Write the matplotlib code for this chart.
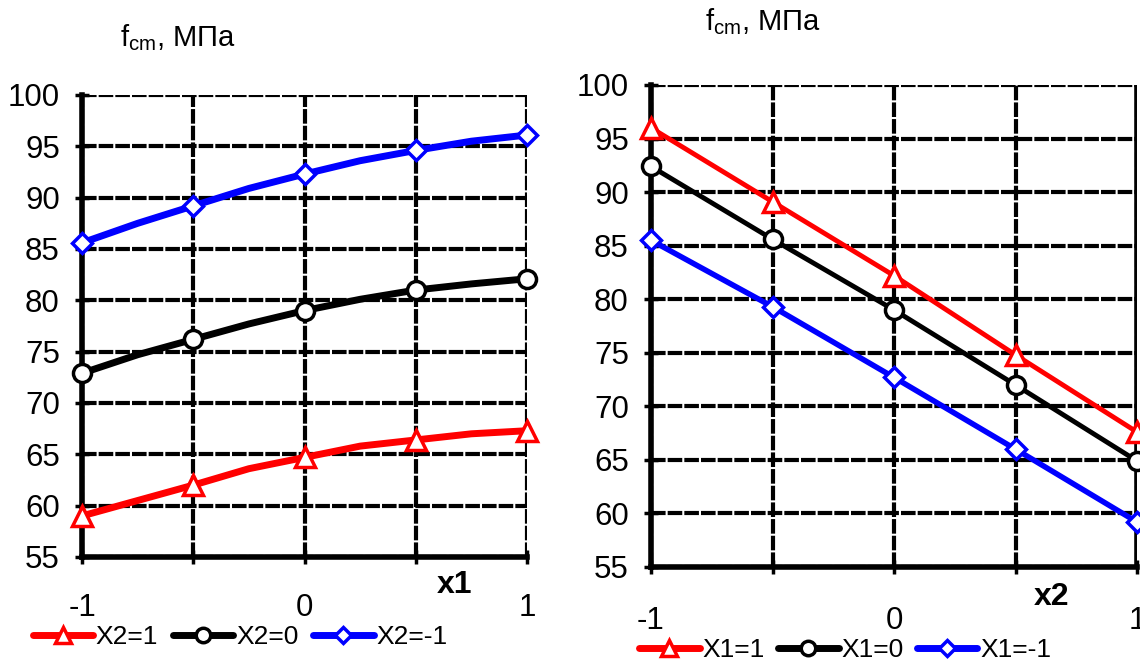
import matplotlib
matplotlib.use("Agg")
import matplotlib.pyplot as plt

plt.rcParams["font.family"] = ["Liberation Sans", "DejaVu Sans"]
plt.rcParams["mathtext.fontset"] = "custom"
plt.rcParams["mathtext.rm"] = "Liberation Sans"
plt.rcParams["mathtext.it"] = "Liberation Sans"

# Data
#
x_fine = [-1, -0.75, -0.5, -0.25, 0, 0.25, 0.5, 0.75, 1]
x_mark = [-1, -0.5, 0, 0.5, 1]

left_red = [59.0, 60.5, 62.0, 63.6, 64.7, 65.8, 66.4, 67.0, 67.3]
left_black = [72.9, 74.7, 76.2, 77.7, 79.0, 80.1, 81.0, 81.6, 82.1]
left_blue = [85.6, 87.5, 89.2, 90.9, 92.3, 93.6, 94.6, 95.5, 96.1]
left_labels = ["X2=1", "X2=0", "X2=-1"]

right_red = [96.0, 89.1, 82.2, 74.8, 67.6]
right_black = [92.4, 85.6, 79.0, 72.0, 64.9]
right_blue = [85.5, 79.3, 72.7, 66.0, 59.2]
right_labels = ["X1=1", "X1=0", "X1=-1"]

y_ticks = list(range(55, 101, 5))
x_ticks = [-1, -0.5, 0, 0.5, 1]
x_ticklabels = ["-1", "", "0", "", "1"]

colors = ["#ff0000", "#000000", "#0000ff"]
markers = ["^", "o", "D"]
msizes = [14, 13, 10]

W, H = 1140, 665
fig = plt.figure(figsize=(W / 100, H / 100), dpi=100)


def box(x0, x1, y0, y1):
    # pixel box -> figure fraction
    return [x0 / W, 1 - y1 / H, (x1 - x0) / W, (y1 - y0) / H]


def style_axes(ax, pad):
    ax.set_xlim(-1, 1)
    ax.set_ylim(55, 100)
    ax.set_xticks(x_ticks)
    ax.set_xticklabels(x_ticklabels)
    ax.set_yticks(y_ticks)
    ax.grid(True, color="black", linewidth=3, linestyle=(0, (3.5, 0.5)))
    for side in ["top", "right"]:
        ax.spines[side].set_visible(False)
    for side in ["left", "bottom"]:
        ax.spines[side].set_linewidth(4)
    ax.tick_params(axis="both", direction="inout", length=10, width=2.5,
                   labelsize=22.5)
    ax.tick_params(axis="x", pad=pad)
    ax.tick_params(axis="y", pad=11)
    ax.set_axisbelow(True)


# Left panel
#
ax1 = fig.add_axes(box(82, 527, 95, 557))
style_axes(ax1, 21)
left_series = [left_red, left_black, left_blue]
handles = []
for vals, c, m, ms, lab in zip(left_series, colors, markers, msizes, left_labels):
    ax1.plot(x_fine, vals, color=c, linewidth=5, solid_capstyle="round",
             clip_on=False, zorder=3)
    marks = [v for xv, v in zip(x_fine, vals) if xv in x_mark]
    ax1.plot(x_mark, marks, linestyle="none", marker=m, markersize=ms,
             markerfacecolor="white", markeredgecolor=c, markeredgewidth=2.5,
             clip_on=False, zorder=4)
    h, = ax1.plot([], [], color=c, linewidth=5, marker=m, markersize=ms * 0.8,
                  markerfacecolor="white", markeredgecolor=c,
                  markeredgewidth=2.5, solid_capstyle="round", label=lab)
    handles.append(h)

fig.legend(handles=handles, loc="center", ncol=3, frameon=False,
           bbox_to_anchor=(240 / W, 1 - 637 / H), fontsize=19,
           handlelength=2.3, handletextpad=0.1, columnspacing=0.55,
           numpoints=1)
fig.text(178 / W, 1 - 38 / H, r"f$_{\mathrm{cm}}$, МПа", fontsize=21,
         ha="center", va="center")
fig.text(455 / W, 1 - 585 / H, "x1", fontsize=23, fontweight="bold",
         ha="center", va="center")

# Right panel
#
ax2 = fig.add_axes(box(651, 1137, 85, 567))
style_axes(ax2, 23)
right_series = [right_red, right_black, right_blue]
lw_right = [3.5, 3.5, 4]
handles = []
for vals, c, m, ms, lab, lw in zip(right_series, colors, markers, msizes,
                                   right_labels, lw_right):
    ax2.plot(x_mark, vals, color=c, linewidth=lw, marker=m, markersize=ms,
             markerfacecolor="white", markeredgecolor=c, markeredgewidth=2.5,
             clip_on=False, zorder=3)
    h, = ax2.plot([], [], color=c, linewidth=5, marker=m, markersize=ms * 0.8,
                  markerfacecolor="white", markeredgecolor=c,
                  markeredgewidth=2.5, solid_capstyle="round", label=lab)
    handles.append(h)
ax2.axvline(1, color="black", linewidth=4, zorder=2)

fig.legend(handles=handles, loc="center", ncol=3, frameon=False,
           bbox_to_anchor=(845 / W, 1 - 650 / H), fontsize=19,
           handlelength=2.3, handletextpad=0.1, columnspacing=0.5,
           numpoints=1)
fig.text(763 / W, 1 - 22 / H, r"f$_{\mathrm{cm}}$, МПа", fontsize=21,
         ha="center", va="center")
fig.text(1052 / W, 1 - 597 / H, "x2", fontsize=23, fontweight="bold",
         ha="center", va="center")

fig.savefig("out.png", dpi=100, facecolor="white")
plt.close(fig)
